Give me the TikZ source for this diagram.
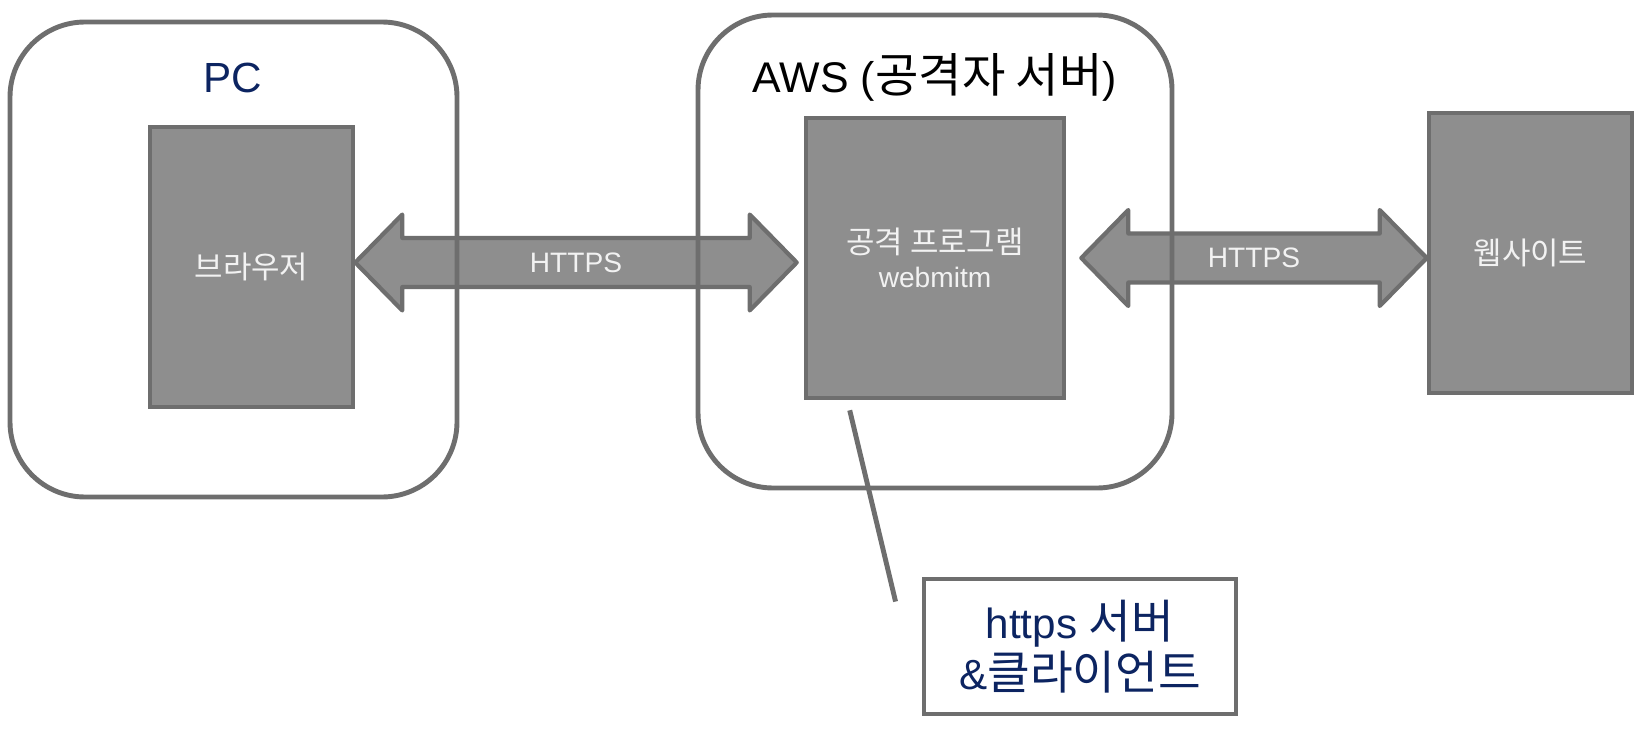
\documentclass[tikz,border=0pt]{standalone}
\usepackage{fontspec}
\setmainfont{Liberation Sans}
\newfontfamily\kr[Scale=1.1]{Noto Sans CJK KR}
\usetikzlibrary{calc}
\definecolor{boxgray}{HTML}{8E8E8E}
\definecolor{linegray}{HTML}{6E6E6E}
\definecolor{navy}{HTML}{0C2461}
\definecolor{paletext}{HTML}{F2F2F2}

\begin{document}
\begin{tikzpicture}[x=0.1mm, y=-0.1mm,
  outerbox/.style={draw=linegray, line width=1.4pt, rounded corners=7.5mm, inner sep=0pt},
  innerbox/.style={draw=linegray, fill=boxgray, line width=1.3pt, inner sep=0pt,
    minimum width=20.3mm, minimum height=28mm, text=paletext, align=center,
    font=\fontsize{8}{9.7}\selectfont},
  bigarrow/.style={draw=linegray, fill=boxgray, line width=1.2pt, line join=round},
  arrowtext/.style={text=paletext, font=\fontsize{8}{9.7}\selectfont}]
  \useasboundingbox (0,0) rectangle (1648,753);
  % The three programs: browser, attack program, web site.
  \node[innerbox] (browser) at (251.5,267) {{\kr 브라우저}};
  \node[innerbox, minimum width=25.8mm] (prog) at (935,258) {{\kr 공격 프로그램}\\webmitm};
  \node[innerbox] (site) at (1530.5,253) {{\kr 웹사이트}};
  % Tips of the two HTTPS block arrows.
  \coordinate (mid) at ($(browser.east)!0.5!(prog.west)$);
  \coordinate (l1) at (browser.east |- mid);
  \coordinate (l2) at ($(prog.west |- mid)+(-7,0)$);
  \coordinate (r1) at ($(prog.east)+(15,0)$);
  \coordinate (r2) at (site.west |- prog.east);
  \foreach \a/\b in {l1/l2, r1/r2} {
    \draw[bigarrow] (\a) -- ($(\a)+(47,-48)$) -- ($(\a)+(47,-24.5)$)
      -- ($(\b)+(-47,-24.5)$) -- ($(\b)+(-47,-48)$) -- (\b)
      -- ($(\b)+(-47,48)$) -- ($(\b)+(-47,24.5)$)
      -- ($(\a)+(47,24.5)$) -- ($(\a)+(47,48)$) -- cycle;
  }
  \node[arrowtext] (lhttps) at ($(l1)!0.5!(l2)$) {HTTPS};
  \node[arrowtext] (rhttps) at ($(r1)!0.5!(r2)$) {HTTPS};
  % The two machines, drawn over the arrows.
  \node[outerbox, minimum width=44.7mm, minimum height=47.5mm] (pc) at (233.5,259.5) {};
  \node[outerbox, minimum width=47.4mm, minimum height=47.3mm] (aws) at (935,251.5) {};
  \node[text=navy, font=\fontsize{12}{14}\selectfont] (pctitle) at (233,78) {PC};
  \node[font=\fontsize{12.2}{14}\selectfont] (awstitle) at (935,77) {AWS ({\kr 공격자 서버})};
  % Callout for the attack program.
  \node[draw=linegray, fill=white, line width=1.4pt, inner sep=0pt, minimum width=31.2mm,
    minimum height=13.5mm, text=navy, align=center, font=\fontsize{12}{14.4}\selectfont]
    (note) at (1080,646.5) {https {\kr 서버}\\\&{\kr 클라이언트}};
  \coordinate (tail) at ($(note.north west)+(-26,25)$);
  \draw[draw=linegray, line width=1.4pt] ($(prog.south west)+(46,10)$) -- (tail);
\end{tikzpicture}
\end{document}
